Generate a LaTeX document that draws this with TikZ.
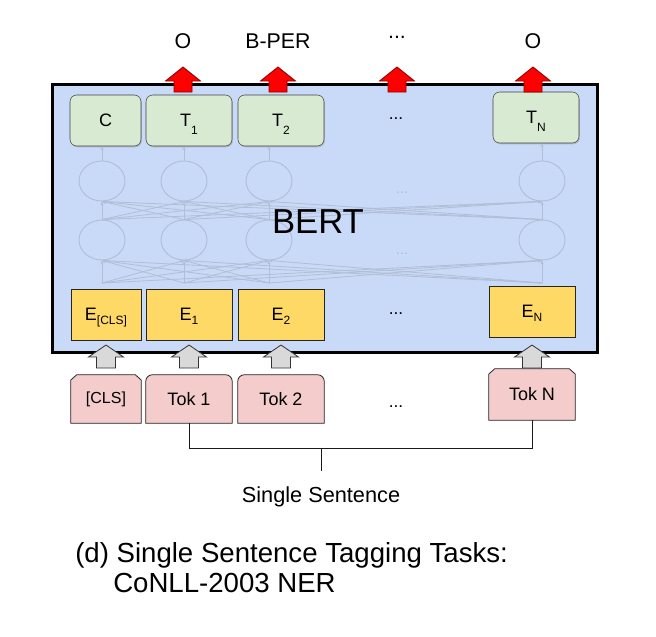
\documentclass[tikz,border=0pt]{standalone}
\usepackage{fontspec}
\setmainfont{Liberation Sans}
\usetikzlibrary{shapes.geometric,arrows.meta,shadows}

\definecolor{bertblue}{HTML}{C9DAF8}
\definecolor{tgreen}{HTML}{D9EAD3}
\definecolor{eyellow}{HTML}{FFD966}
\definecolor{tokpink}{HTML}{F4CCCC}
\definecolor{netgray}{RGB}{176,190,214}
\definecolor{arrgray}{HTML}{D9D9D9}
\definecolor{darkred}{HTML}{8B0000}

\pgfdeclarelayer{background}
\pgfsetlayers{background,main}

\newcommand{\lowsub}[2][3pt]{\smash{\raisebox{-#1}{\fontsize{9}{10}\selectfont #2}}}

\tikzset{
  bertbox/.style={draw=black, line width=2.25pt, fill=bertblue, minimum width=408.75pt, minimum height=201pt},
  neuron/.style={ellipse, draw=netgray, line width=0.7pt, minimum width=34.5pt, minimum height=30pt, inner sep=0pt},
  netline/.style={draw=netgray, line width=0.6pt, -{Stealth[length=3pt,width=2.5pt]}},
  netdots/.style={text=netgray, font=\fontsize{11}{12}\selectfont},
  outbox/.style={draw=black!75, fill=tgreen, rounded corners=5pt, minimum width=64.5pt, minimum height=38.25pt, inner sep=0pt,
    font=\fontsize{13.5}{15}\selectfont, drop shadow={shadow xshift=0.7pt, shadow yshift=-1pt, opacity=0.35}},
  embbox/.style={draw=black!85, line width=0.6pt, fill=eyellow, minimum width=64.5pt, minimum height=38.25pt, inner sep=0pt,
    font=\fontsize{13.5}{15}\selectfont},
  tokbox/.style={minimum width=64.5pt, minimum height=36pt, inner sep=0pt, font=\fontsize{13.5}{15}\selectfont},
  tokline/.style={draw=black!85, line width=0.6pt, fill=tokpink},
  dots/.style={font=\fontsize{13}{15}\selectfont},
  outlbl/.style={anchor=base, font=\fontsize{16}{18}\selectfont},
  caption/.style={anchor=base west, inner sep=0pt, font=\fontsize{20.7}{23}\selectfont},
  bracket/.style={draw=black!90, line width=0.75pt},
  redup/.pic={\filldraw[fill=red, draw=darkred, line width=0.6pt] (-9,0) -- (-9,-11) -- (-17.5,-11) -- (0,-25) -- (17.5,-11) -- (9,-11) -- (9,0) -- cycle;},
  grayup/.pic={\filldraw[fill=arrgray, draw=black!80, line width=0.6pt] (-9.5,0) -- (-9.5,-11) -- (-17.5,-11) -- (0,-23) -- (17.5,-11) -- (9.5,-11) -- (9.5,0) -- cycle;}
}

\begin{document}
\begin{tikzpicture}[x=0.75pt,y=-0.75pt]
  \useasboundingbox (0,0) rectangle (656,636);

  % encoder block
  \node (bert) [bertbox] at (324.5,218) {};

  % hidden layers
  \foreach \i/\x in {1/102,2/184,3/269,4/542} {
    \coordinate (b\i) at (\x,283);
    \node (hb\i) [neuron] at (\x,240) {};
    \node (ht\i) [neuron] at (\x,181) {};
  }
  \foreach \i in {1,...,4}
    \foreach \j in {1,...,4} {
      \draw[netline] (b\i) -- (hb\j.south);
      \draw[netline] (hb\i.north) -- (ht\j.south);
    }
  \node (hdots1) [netdots] at (402,193) {...};
  \node (hdots2) [netdots] at (402,254) {...};

  % output row
  \node (tc) [outbox, minimum width=53.25pt] at (105.5,120.5) {C};
  \node (t1) [outbox] at (189,120.5) {T\lowsub[6pt]{1}};
  \node (t2) [outbox] at (281,120.5) {T\lowsub[6pt]{2}};
  \node (tdots) [dots] at (396,119) {...};
  \node (tn) [outbox] at (536,117.5) {T\lowsub[6pt]{N}};
  \foreach \i/\n in {1/tc,2/t1,3/t2,4/tn}
    \draw[netline] (ht\i.north) -- (ht\i.north |- \n.south);

  \node (bertlbl) [font=\fontsize{26}{29}\selectfont] at (318,222) {BERT};

  % embeddings
  \node (ecls) [embbox, minimum width=52.5pt] at (106,314.5) {E\lowsub{[CLS]}};
  \node (e1) [embbox] at (189,314.5) {E\lowsub{1}};
  \node (e2) [embbox] at (281,314.5) {E\lowsub{2}};
  \node (edots) [dots] at (396,314) {...};
  \node (en) [embbox] at (532,311.5) {E\lowsub{N}};

  % input tokens
  \node (tokcls) [tokbox, minimum width=52.5pt, font=\fontsize{12}{14}\selectfont] at (106,399) {[CLS]};
  \node (tok1) [tokbox] at (189,399) {Tok 1};
  \node (tok2) [tokbox] at (281,399) {Tok 2};
  \node (tokdots) [dots] at (396,407) {...};
  \node (tokn) [tokbox, minimum height=38.25pt] at (532,394.5) {Tok N};
  \begin{pgfonlayer}{background}
    \foreach \n in {tokcls,tokn}
      \filldraw[tokline] (\n.south west) -- ([yshift=-4pt]\n.north west) -- ([xshift=4.5pt]\n.north west)
        -- ([xshift=-4.5pt]\n.north east) -- ([yshift=-4pt]\n.north east) -- (\n.south east) -- cycle;
    \foreach \n in {tok1,tok2}
      \filldraw[tokline] (\n.south west) -- ([yshift=-5pt]\n.north west) arc[start angle=180, end angle=90, radius=5pt]
        -- ([xshift=-5pt]\n.north east) arc[start angle=90, end angle=0, radius=5pt] -- (\n.south east) -- cycle;
  \end{pgfonlayer}

  \coordinate (gbase) at (0,368);
  \foreach \n in {tokcls,tok1,tok2,tokn}
    \pic at (\n.north |- gbase) {grayup};

  % output labels
  \node (lab1) [outlbl] at (183,48) {O};
  \node (lab2) [outlbl] at (278,48) {B-PER};
  \node (labdots) [dots, font=\fontsize{16}{18}\selectfont] at (397,37) {...};
  \node (labn) [outlbl] at (533,48) {O};
  \coordinate (rbase) at (0,92);
  \foreach \n in {lab1,lab2,labdots,labn}
    \pic at (\n.south |- rbase) {redup};

  % sentence bracket
  \coordinate (brk) at (0,448);
  \draw[bracket] (tok1.south) -- (tok1.south |- brk) -- (tokn.south |- brk) -- (tokn.south);
  \coordinate (stemtop) at (321,448);
  \coordinate (stemend) at (321,471);
  \draw[bracket] (stemtop) -- (stemend);
  \node (sent) [anchor=base, font=\fontsize{16.3}{18}\selectfont] at (321,502) {Single Sentence};

  % caption
  \node (cap1) [caption] at (75,562) {(d) Single Sentence Tagging Tasks:};
  \node (cap2) [caption] at (113,592) {CoNLL-2003 NER};
\end{tikzpicture}
\end{document}
